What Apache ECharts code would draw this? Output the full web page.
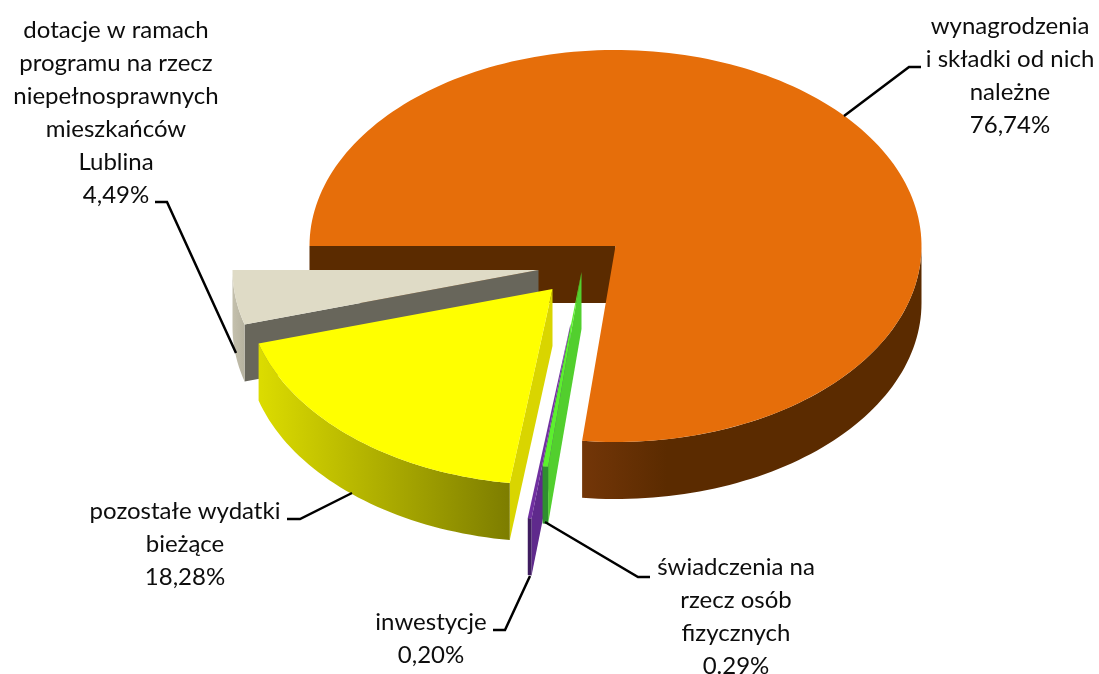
<!DOCTYPE html>
<html>
<head>
<meta charset="utf-8">
<title>Struktura wydatków</title>
<style>
  html, body { margin: 0; padding: 0; background: #fff; }
  #chart { width: 1099px; height: 674px; }
</style>
<script src="https://cdn.jsdelivr.net/npm/echarts@6/dist/echarts.min.js"></script>
</head>
<body>
<div id="chart"></div>
<script>
// dane, kolejnosc zgodna z ruchem wskazowek zegara od lewej krawedzi tortu
const categories = [
  "wynagrodzenia\ni składki od nich\nnależne",
  "świadczenia na\nrzecz osób\nfizycznych",
  "inwestycje",
  "pozostałe wydatki\nbieżące",
  "dotacje w ramach\nprogramu na rzecz\nniepełnosprawnych\nmieszkańców\nLublina"
];
const values = [76.74, 0.29, 0.20, 18.28, 4.49];
const valueLabels = ["76,74%", "0.29%", "0,20%", "18,28%", "4,49%"];

// wyglad
const topColors = ["#e66e0a", "#5cf02e", "#7030a0", "#ffff00", "#dfdbc6"];
const cutColors = ["#5b2b00", "#52cf2e", "#5f2a8c", "#d9d500", "#68665b"];
const wallStops = [
  [[0, "#733608"], [0.25, "#5b2b00"], [1, "#5b2b00"]],
  [[0, "#2f8f2f"], [1, "#2f8f2f"]],
  [[0, "#3f1c60"], [1, "#3f1c60"]],
  [[0, "#dcdc00"], [1, "#7d7d00"]],
  [[0, "#c4c0ad"], [1, "#b6b29f"]]
];
const offsets = [[0, 0], [-34, 26], [-45, 78], [-63, 43], [-77, 24]];
const drawOrder = [0, 4, 3, 2, 1];
const labelCenters = [[1010, 75.5], [736, 617], [431, 638.5], [185, 544], [116, 113]];
const leaders = [
  [[844, 116], [909, 67], [921, 67]],
  [[545, 522], [638, 577], [650, 577]],
  [[530, 576], [505, 630], [493, 630]],
  [[352, 493], [300, 519], [287, 519]],
  [[236, 353], [167, 202], [155, 202]]
];
const cx = 615.5, cy = 246, rx = 306, ry = 196, depth = 57;
const startAngle = 270;

const total = values.reduce((a, b) => a + b, 0);
const toDeg = v => v / total * 360;

function rimPoint(ox, oy, deg, dy) {
  const r = deg * Math.PI / 180;
  return [ox + rx * Math.sin(r), oy - ry * Math.cos(r) + (dy || 0)];
}
function arc(ox, oy, a0, a1, dy) {
  const n = Math.max(2, Math.ceil((a1 - a0) / 1.5));
  const pts = [];
  for (let i = 0; i <= n; i++) {
    pts.push(rimPoint(ox, oy, a0 + (a1 - a0) * i / n, dy));
  }
  return pts;
}

function renderSlice(params) {
  const i = params.dataIndex;
  let a0 = startAngle;
  for (let k = 0; k < i; k++) a0 += toDeg(values[k]);
  const a1 = a0 + toDeg(values[i]);
  const ox = cx + offsets[i][0], oy = cy + offsets[i][1];
  const z = drawOrder.indexOf(i) * 10;
  const children = [];

  // sciana przekroju na poczatku wycinka
  const s = rimPoint(ox, oy, a0);
  children.push({
    type: "polygon", z2: z,
    shape: { points: [[ox, oy], s, [s[0], s[1] + depth], [ox, oy + depth]] },
    style: { fill: cutColors[i] }
  });

  // zewnetrzna sciana, tylko przednia polowa tortu (90-270 lub 450-630 stopni)
  const base = a1 > 360 ? 360 : 0;
  const from = Math.max(a0, base + 90), to = Math.min(a1, base + 270);
  if (to > from) {
    const upper = arc(ox, oy, from, to);
    const lower = arc(ox, oy, from, to, depth).reverse();
    // gradient liczony od lewej, wiec dla sciany tortu trzeba go odwrocic tylko przez kolejnosc stopni
    children.push({
      type: "polygon", z2: z + 1,
      shape: { points: upper.concat(lower) },
      style: {
        fill: new echarts.graphic.LinearGradient(0, 0, 1, 0,
          wallStops[i].map(st => ({ offset: st[0], color: st[1] })))
      }
    });
  }

  // gorna powierzchnia
  children.push({
    type: "polygon", z2: z + 2,
    shape: { points: [[ox, oy]].concat(arc(ox, oy, a0, a1)) },
    style: { fill: topColors[i] }
  });

  // linia odniesienia i podpis
  children.push({
    type: "polyline", z2: 100,
    shape: { points: leaders[i] },
    style: { fill: null, stroke: "#000", lineWidth: 2.5 }
  });
  children.push({
    type: "text", z2: 101,
    style: {
      text: categories[i] + "\n" + valueLabels[i],
      x: labelCenters[i][0], y: labelCenters[i][1],
      align: "center", verticalAlign: "middle",
      fontFamily: "Lato", fontSize: 24, lineHeight: 33,
      fill: "#0d0d0d"
    }
  });
  return { type: "group", children: children };
}

const chart = echarts.init(document.getElementById("chart"));
chart.setOption({
  backgroundColor: "#fff",
  animation: false,
  series: [{
    type: "custom",
    coordinateSystem: "none",
    silent: true,
    renderItem: renderSlice,
    data: values.map(v => [v])
  }]
});
</script>
</body>
</html>
